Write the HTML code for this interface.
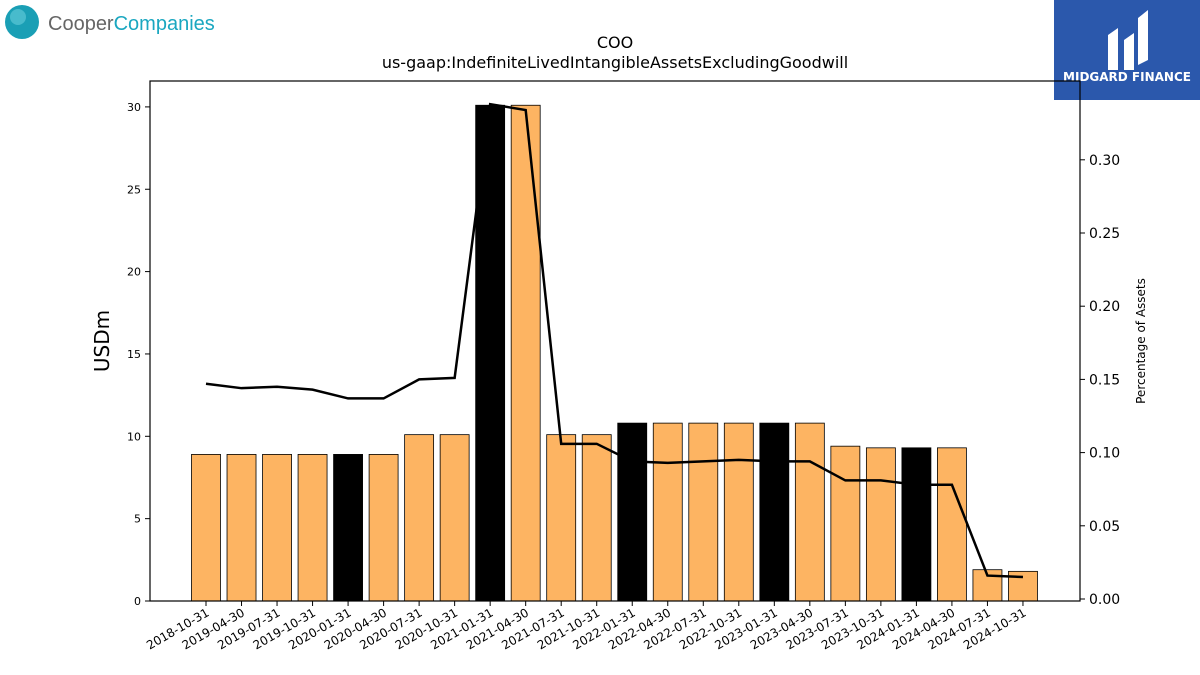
<!DOCTYPE html>
<html><head><meta charset="utf-8"><style>
body{margin:0;background:#fff;font-family:"Liberation Sans","DejaVu Sans",sans-serif;}
#wrap{position:relative;width:1200px;height:675px;overflow:hidden;}
</style></head><body>
<div id="wrap">
<svg id="chart" width="1200" height="675" font-family="DejaVu Sans, Liberation Sans, sans-serif">
<g>
<circle cx="22" cy="22" r="17" fill="#1a9fb5"/>
<circle cx="18" cy="17" r="8" fill="#5cc8d6" opacity="0.7"/>
<text x="48" y="30" font-size="20" fill="#666" font-family="Liberation Sans, sans-serif">Cooper<tspan fill="#1aa7c0">Companies</tspan></text>
</g>
<g>
<rect x="1054" y="0" width="146" height="100" fill="#2b58ac"/>
<path d="M1108 70 L1108 35 L1118 28 L1118 70 Z M1124 70 L1124 40 L1134 33 L1134 70 Z M1138 65 L1138 18 L1148 10 L1148 60 Z" fill="#fff"/>
<text x="1127" y="81" font-size="12" font-weight="bold" fill="#fff" text-anchor="middle">MIDGARD FINANCE</text>
</g>
<text x="615" y="48" font-size="16" text-anchor="middle">COO</text>
<text x="615" y="68" font-size="16" text-anchor="middle">us-gaap:IndefiniteLivedIntangibleAssetsExcludingGoodwill</text>
<g id="plot"></g>
</svg>
</div>
<script>
const categories=["2018-10-31","2019-04-30","2019-07-31","2019-10-31","2020-01-31","2020-04-30","2020-07-31","2020-10-31","2021-01-31","2021-04-30","2021-07-31","2021-10-31","2022-01-31","2022-04-30","2022-07-31","2022-10-31","2023-01-31","2023-04-30","2023-07-31","2023-10-31","2024-01-31","2024-04-30","2024-07-31","2024-10-31"];
const values=[8.9,8.9,8.9,8.9,8.9,8.9,10.1,10.1,30.1,30.1,10.1,10.1,10.8,10.8,10.8,10.8,10.8,10.8,9.4,9.3,9.3,9.3,1.9,1.8];
const highlight=[0,0,0,0,1,0,0,0,1,0,0,0,1,0,0,0,1,0,0,0,1,0,0,0];
const pct=[0.147,0.144,0.145,0.143,0.137,0.137,0.150,0.151,0.338,0.334,0.106,0.106,0.094,0.093,0.094,0.095,0.094,0.094,0.081,0.081,0.078,0.078,0.016,0.015];
const leftTicks=[0,5,10,15,20,25,30];
const rightTicks=[0,0.05,0.10,0.15,0.20,0.25,0.30];
const NS="http://www.w3.org/2000/svg";
const g=document.getElementById('plot');
const L=150,R=1080,T=81,B=601;
const yL=v=>601-v*16.47;
const yR=v=>599-v*1464;
const x=i=>206+i*35.52;
function mk(t,a){const e=document.createElementNS(NS,t);for(const k in a)e.setAttribute(k,a[k]);g.appendChild(e);return e;}
values.forEach((v,i)=>{
 const r=mk('rect',{x:x(i)-14.5,y:yL(v),width:29,height:B-yL(v),fill:highlight[i]?'#000':'#fdb462',stroke:'#000','stroke-width':0.8});
 
 
});
const pts=pct.map((p,i)=>x(i)+','+yR(p)).join(' ');
const line=mk('polyline',{points:pts,fill:'none',stroke:'#000','stroke-width':2.5});


const frame=mk('rect',{x:L,y:T,width:R-L,height:B-T,fill:'none',stroke:'#000','stroke-width':1.2});


leftTicks.forEach(v=>{
 mk('line',{x1:L-5,x2:L,y1:yL(v),y2:yL(v),stroke:'#000'});
 const t=mk('text',{x:L-9,y:yL(v)+4,'font-size':11,'text-anchor':'end'});t.textContent=v;
 
 
});
rightTicks.forEach(v=>{
 mk('line',{x1:R,x2:R+5,y1:yR(v),y2:yR(v),stroke:'#000'});
 const t=mk('text',{x:R+9,y:yR(v)+5,'font-size':14});t.textContent=v.toFixed(2);
 
 
});
categories.forEach((c,i)=>{
 mk('line',{x1:x(i),x2:x(i),y1:B,y2:B+5,stroke:'#000'});
 const t=mk('text',{x:x(i)+4,y:B+14,'font-size':12,'text-anchor':'end',transform:`rotate(-30 ${x(i)+4} ${B+14})`});t.textContent=c;
 
 
});
const yt=mk('text',{x:0,y:0,'font-size':20,'text-anchor':'middle',transform:'translate(109 341) rotate(-90)'});yt.textContent='USDm';


const rt=mk('text',{x:0,y:0,'font-size':12,'text-anchor':'middle',transform:'translate(1145 341) rotate(-90)'});rt.textContent='Percentage of Assets';


</script>
</body></html>
